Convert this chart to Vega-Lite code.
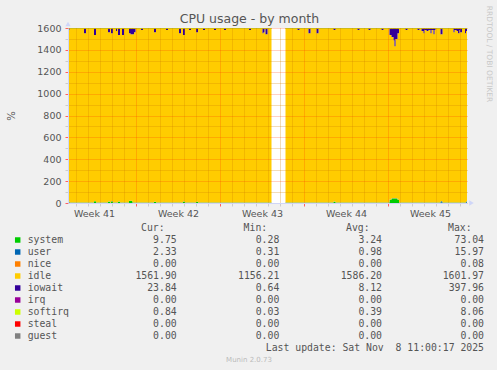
{
  "$schema": "https://vega.github.io/schema/vega-lite/v6.json",
  "background": "#f0f0f0",
  "padding": {"left": 6, "top": 5, "right": 6, "bottom": 7},
  "autosize": {"type": "pad"},
  "bounds": "flush",
  "spacing": 25,
  "title": {"text": "CPU usage - by month", "font": "DejaVu Sans", "fontSize": 12.5, "fontWeight": "normal", "color": "#555555", "anchor": "middle", "offset": -20},
  "config": {"view": {"stroke": null}, "font": "DejaVu Sans"},
  "resolve": {"scale": {"color": "independent"}},
  "datasets": {
    "ord": [
      {"s": "system", "k": 0}, {"s": "user", "k": 1}, {"s": "nice", "k": 2}, {"s": "idle", "k": 3},
      {"s": "iowait", "k": 4}, {"s": "irq", "k": 5}, {"s": "softirq", "k": 6}, {"s": "steal", "k": 7}, {"s": "guest", "k": 8}
    ],
    "arrows": [
      {"t": 32, "v": 1637, "dir": "up"},
      {"t": 839, "v": 0, "dir": "right"}
    ],
    "legend": [
      {"name": "system", "cur": 9.75, "min": 0.28, "avg": 3.24, "max": 73.04},
      {"name": "user", "cur": 2.33, "min": 0.31, "avg": 0.98, "max": 15.97},
      {"name": "nice", "cur": 0.00, "min": 0.00, "avg": 0.00, "max": 0.08},
      {"name": "idle", "cur": 1561.90, "min": 1156.21, "avg": 1586.20, "max": 1601.97},
      {"name": "iowait", "cur": 23.84, "min": 0.64, "avg": 8.12, "max": 397.96},
      {"name": "irq", "cur": 0.00, "min": 0.00, "avg": 0.00, "max": 0.00},
      {"name": "softirq", "cur": 0.84, "min": 0.03, "avg": 0.39, "max": 8.06},
      {"name": "steal", "cur": 0.00, "min": 0.00, "avg": 0.00, "max": 0.00},
      {"name": "guest", "cur": 0.00, "min": 0.00, "avg": 0.00, "max": 0.00}
    ],
    "cpu": [
      {"t": 32, "seg": 1, "system": 3, "user": 10, "idle": 1568, "iowait": 18, "softirq": 1},
      {"t": 35, "seg": 1, "system": 3, "user": 1, "idle": 1591, "iowait": 4, "softirq": 1},
      {"t": 64, "seg": 1, "system": 3, "user": 1, "idle": 1549, "iowait": 46, "softirq": 1},
      {"t": 68, "seg": 1, "system": 3, "user": 1, "idle": 1591, "iowait": 4, "softirq": 1},
      {"t": 84, "seg": 1, "system": 15, "user": 1, "idle": 1519, "iowait": 64, "softirq": 1},
      {"t": 88, "seg": 1, "system": 3, "user": 1, "idle": 1591, "iowait": 4, "softirq": 1},
      {"t": 112, "seg": 1, "system": 12, "user": 1, "idle": 1549, "iowait": 37, "softirq": 1},
      {"t": 116, "seg": 1, "system": 3, "user": 1, "idle": 1591, "iowait": 4, "softirq": 1},
      {"t": 118, "seg": 1, "system": 14, "user": 1, "idle": 1538, "iowait": 46, "softirq": 1},
      {"t": 122, "seg": 1, "system": 3, "user": 1, "idle": 1591, "iowait": 4, "softirq": 1},
      {"t": 128, "seg": 1, "system": 3, "user": 1, "idle": 1568, "iowait": 27, "softirq": 1},
      {"t": 130, "seg": 1, "system": 3, "user": 1, "idle": 1591, "iowait": 4, "softirq": 1},
      {"t": 132, "seg": 1, "system": 12, "user": 1, "idle": 1522, "iowait": 64, "softirq": 1},
      {"t": 136, "seg": 1, "system": 3, "user": 1, "idle": 1591, "iowait": 4, "softirq": 1},
      {"t": 140, "seg": 1, "system": 3, "user": 1, "idle": 1531, "iowait": 64, "softirq": 1},
      {"t": 144, "seg": 1, "system": 3, "user": 1, "idle": 1591, "iowait": 4, "softirq": 1},
      {"t": 154, "seg": 1, "system": 20, "user": 1, "idle": 1532, "iowait": 46, "softirq": 1},
      {"t": 157, "seg": 1, "system": 20, "user": 1, "idle": 1523, "iowait": 55, "softirq": 1},
      {"t": 161, "seg": 1, "system": 3, "user": 1, "idle": 1540, "iowait": 55, "softirq": 1},
      {"t": 164, "seg": 1, "system": 3, "user": 1, "idle": 1558, "iowait": 37, "softirq": 1},
      {"t": 167, "seg": 1, "system": 3, "user": 1, "idle": 1591, "iowait": 4, "softirq": 1},
      {"t": 178, "seg": 1, "system": 3, "user": 1, "idle": 1577, "iowait": 18, "softirq": 1},
      {"t": 182, "seg": 1, "system": 3, "user": 1, "idle": 1591, "iowait": 4, "softirq": 1},
      {"t": 204, "seg": 1, "system": 10, "user": 1, "idle": 1551, "iowait": 37, "softirq": 1},
      {"t": 208, "seg": 1, "system": 3, "user": 1, "idle": 1591, "iowait": 4, "softirq": 1},
      {"t": 228, "seg": 1, "system": 3, "user": 1, "idle": 1577, "iowait": 18, "softirq": 1},
      {"t": 232, "seg": 1, "system": 3, "user": 1, "idle": 1591, "iowait": 4, "softirq": 1},
      {"t": 254, "seg": 1, "system": 3, "user": 1, "idle": 1549, "iowait": 46, "softirq": 1},
      {"t": 258, "seg": 1, "system": 3, "user": 1, "idle": 1591, "iowait": 4, "softirq": 1},
      {"t": 262, "seg": 1, "system": 12, "user": 1, "idle": 1522, "iowait": 64, "softirq": 1},
      {"t": 266, "seg": 1, "system": 3, "user": 1, "idle": 1591, "iowait": 4, "softirq": 1},
      {"t": 274, "seg": 1, "system": 3, "user": 1, "idle": 1577, "iowait": 18, "softirq": 1},
      {"t": 278, "seg": 1, "system": 3, "user": 1, "idle": 1591, "iowait": 4, "softirq": 1},
      {"t": 288, "seg": 1, "system": 10, "user": 1, "idle": 1551, "iowait": 37, "softirq": 1},
      {"t": 292, "seg": 1, "system": 3, "user": 1, "idle": 1591, "iowait": 4, "softirq": 1},
      {"t": 302, "seg": 1, "system": 3, "user": 1, "idle": 1577, "iowait": 18, "softirq": 1},
      {"t": 306, "seg": 1, "system": 3, "user": 1, "idle": 1591, "iowait": 4, "softirq": 1},
      {"t": 324, "seg": 1, "system": 3, "user": 1, "idle": 1577, "iowait": 18, "softirq": 1},
      {"t": 328, "seg": 1, "system": 3, "user": 1, "idle": 1591, "iowait": 4, "softirq": 1},
      {"t": 344, "seg": 1, "system": 3, "user": 1, "idle": 1577, "iowait": 18, "softirq": 1},
      {"t": 348, "seg": 1, "system": 3, "user": 1, "idle": 1591, "iowait": 4, "softirq": 1},
      {"t": 394, "seg": 1, "system": 3, "user": 1, "idle": 1577, "iowait": 18, "softirq": 1},
      {"t": 398, "seg": 1, "system": 3, "user": 1, "idle": 1591, "iowait": 4, "softirq": 1},
      {"t": 421, "seg": 1, "system": 3, "user": 1, "idle": 1549, "iowait": 46, "softirq": 1},
      {"t": 423, "seg": 1, "system": 3, "user": 1, "idle": 1558, "iowait": 37, "softirq": 1},
      {"t": 425, "seg": 1, "system": 3, "user": 1, "idle": 1591, "iowait": 4, "softirq": 1},
      {"t": 427, "seg": 1, "system": 3, "user": 1, "idle": 1540, "iowait": 55, "softirq": 1},
      {"t": 431, "seg": 1, "system": 3, "user": 1, "idle": 1591, "iowait": 4, "softirq": 1},
      {"t": 439, "seg": 1, "system": 3, "user": 1, "idle": 1591, "iowait": 4, "softirq": 1},
      {"t": 467, "seg": 2, "system": 3, "user": 1, "idle": 1591, "iowait": 4, "softirq": 1},
      {"t": 491, "seg": 2, "system": 3, "user": 1, "idle": 1577, "iowait": 18, "softirq": 1},
      {"t": 495, "seg": 2, "system": 3, "user": 1, "idle": 1591, "iowait": 4, "softirq": 1},
      {"t": 513, "seg": 2, "system": 3, "user": 1, "idle": 1549, "iowait": 46, "softirq": 1},
      {"t": 517, "seg": 2, "system": 3, "user": 1, "idle": 1591, "iowait": 4, "softirq": 1},
      {"t": 529, "seg": 2, "system": 3, "user": 1, "idle": 1549, "iowait": 46, "softirq": 1},
      {"t": 533, "seg": 2, "system": 3, "user": 1, "idle": 1591, "iowait": 4, "softirq": 1},
      {"t": 563, "seg": 2, "system": 12, "user": 1, "idle": 1568, "iowait": 18, "softirq": 1},
      {"t": 567, "seg": 2, "system": 3, "user": 1, "idle": 1591, "iowait": 4, "softirq": 1},
      {"t": 611, "seg": 2, "system": 3, "user": 1, "idle": 1577, "iowait": 18, "softirq": 1},
      {"t": 615, "seg": 2, "system": 3, "user": 1, "idle": 1591, "iowait": 4, "softirq": 1},
      {"t": 633, "seg": 2, "system": 3, "user": 1, "idle": 1577, "iowait": 18, "softirq": 1},
      {"t": 637, "seg": 2, "system": 3, "user": 1, "idle": 1591, "iowait": 4, "softirq": 1},
      {"t": 659, "seg": 2, "system": 3, "user": 1, "idle": 1577, "iowait": 18, "softirq": 1},
      {"t": 663, "seg": 2, "system": 3, "user": 1, "idle": 1591, "iowait": 4, "softirq": 1},
      {"t": 675, "seg": 2, "system": 30, "user": 1, "idle": 1504, "iowait": 64, "softirq": 1},
      {"t": 679, "seg": 2, "system": 42, "user": 1, "idle": 1474, "iowait": 82, "softirq": 1},
      {"t": 683, "seg": 2, "system": 42, "user": 1, "idle": 1446, "iowait": 110, "softirq": 1},
      {"t": 685, "seg": 2, "system": 42, "user": 1, "idle": 1391, "iowait": 165, "softirq": 1},
      {"t": 687, "seg": 2, "system": 42, "user": 1, "idle": 1456, "iowait": 100, "softirq": 1},
      {"t": 691, "seg": 2, "system": 30, "user": 1, "idle": 1522, "iowait": 46, "softirq": 1},
      {"t": 694, "seg": 2, "system": 3, "user": 1, "idle": 1591, "iowait": 4, "softirq": 1},
      {"t": 707, "seg": 2, "system": 3, "user": 1, "idle": 1577, "iowait": 18, "softirq": 1},
      {"t": 711, "seg": 2, "system": 3, "user": 1, "idle": 1591, "iowait": 4, "softirq": 1},
      {"t": 731, "seg": 2, "system": 3, "user": 1, "idle": 1577, "iowait": 18, "softirq": 1},
      {"t": 735, "seg": 2, "system": 3, "user": 1, "idle": 1591, "iowait": 4, "softirq": 1},
      {"t": 739, "seg": 2, "system": 3, "user": 1, "idle": 1568, "iowait": 27, "softirq": 1},
      {"t": 743, "seg": 2, "system": 3, "user": 1, "idle": 1549, "iowait": 46, "softirq": 1},
      {"t": 745, "seg": 2, "system": 3, "user": 1, "idle": 1577, "iowait": 18, "softirq": 1},
      {"t": 749, "seg": 2, "system": 3, "user": 1, "idle": 1568, "iowait": 27, "softirq": 1},
      {"t": 753, "seg": 2, "system": 3, "user": 1, "idle": 1577, "iowait": 18, "softirq": 1},
      {"t": 757, "seg": 2, "system": 3, "user": 1, "idle": 1549, "iowait": 46, "softirq": 1},
      {"t": 759, "seg": 2, "system": 3, "user": 1, "idle": 1577, "iowait": 18, "softirq": 1},
      {"t": 763, "seg": 2, "system": 3, "user": 1, "idle": 1540, "iowait": 55, "softirq": 1},
      {"t": 765, "seg": 2, "system": 3, "user": 1, "idle": 1577, "iowait": 18, "softirq": 1},
      {"t": 767, "seg": 2, "system": 3, "user": 1, "idle": 1591, "iowait": 4, "softirq": 1},
      {"t": 777, "seg": 2, "system": 3, "user": 12, "idle": 1529, "iowait": 55, "softirq": 1},
      {"t": 781, "seg": 2, "system": 3, "user": 1, "idle": 1591, "iowait": 4, "softirq": 1},
      {"t": 803, "seg": 2, "system": 3, "user": 1, "idle": 1558, "iowait": 37, "softirq": 1},
      {"t": 805, "seg": 2, "system": 3, "user": 1, "idle": 1577, "iowait": 18, "softirq": 1},
      {"t": 809, "seg": 2, "system": 3, "user": 1, "idle": 1568, "iowait": 27, "softirq": 1},
      {"t": 812, "seg": 2, "system": 3, "user": 1, "idle": 1549, "iowait": 46, "softirq": 1},
      {"t": 815, "seg": 2, "system": 3, "user": 1, "idle": 1577, "iowait": 18, "softirq": 1},
      {"t": 816, "seg": 2, "system": 3, "user": 1, "idle": 1558, "iowait": 37, "softirq": 1},
      {"t": 820, "seg": 2, "system": 3, "user": 1, "idle": 1591, "iowait": 4, "softirq": 1},
      {"t": 826, "seg": 2, "system": 3, "user": 1, "idle": 1549, "iowait": 46, "softirq": 1},
      {"t": 828, "seg": 2, "system": 3, "user": 10, "idle": 1559, "iowait": 27, "softirq": 1},
      {"t": 830, "seg": 2, "system": 3, "user": 10, "idle": 1559, "iowait": 27, "softirq": 1}
    ]
  },
  "vconcat": [
    {
      "width": 399,
      "height": 175,
      "view": {"fill": "#ffffff", "stroke": null},
      "resolve": {"axis": {"x": "independent", "y": "independent"}},
      "layer": [
        {
          "data": {"name": "cpu"},
          "transform": [
            {"fold": ["system", "user", "idle", "iowait", "softirq"], "as": ["s", "v"]},
            {"lookup": "s", "from": {"data": {"name": "ord"}, "key": "s", "fields": ["k"]}}
          ],
          "mark": {"type": "area", "clip": true, "opacity": 1, "strokeWidth": 1, "interpolate": "step-after"},
          "encoding": {
            "x": {
              "field": "t", "type": "quantitative",
              "scale": {"domain": [32, 830], "nice": false, "zero": false},
              "axis": {
                "values": [48, 72, 96, 120, 144, 168, 192, 216, 240, 264, 288, 312, 336, 360, 384, 408, 432, 456, 480, 504, 528, 552, 576, 600, 624, 648, 672, 696, 720, 744, 768, 792, 816],
                "labels": false,
                "grid": true,
                "gridDash": [1, 1],
                "gridColor": {"condition": {"test": "datum.value % 168 === 0", "value": "#ff3000"}, "value": "#d08000"},
                "gridOpacity": {"condition": {"test": "datum.value % 168 === 0", "value": 0.45}, "value": 0.55},
                "tickColor": {"condition": {"test": "datum.value % 168 === 0", "value": "#ff6060"}, "value": "#cccccc"},
                "tickSize": 3,
                "domainColor": "#cfd6f8",
                "title": null,
                "zindex": 1
              }
            },
            "y": {
              "field": "v", "type": "quantitative", "stack": "zero", "impute": null,
              "scale": {"domain": [0, 1600], "nice": false},
              "axis": {
                "orient": "left",
                "values": [0, 100, 200, 300, 400, 500, 600, 700, 800, 900, 1000, 1100, 1200, 1300, 1400, 1500, 1600],
                "format": "d",
                "labelExpr": "datum.value % 200 === 0 ? datum.label : ''",
                "grid": true,
                "gridDash": [1, 1],
                "gridColor": {"condition": {"test": "datum.value % 200 === 0", "value": "#ff3000"}, "value": "#d08000"},
                "gridOpacity": {"condition": {"test": "datum.value % 200 === 0", "value": 0.45}, "value": 0.55},
                "tickColor": {"condition": {"test": "datum.value % 200 === 0", "value": "#ff6060"}, "value": "#cccccc"},
                "tickSize": 3,
                "labelFont": "DejaVu Sans", "labelFontSize": 9.5, "labelColor": "#555555", "labelPadding": 4,
                "labelOverlap": false, "labelFlush": false,
                "domainColor": "#cfd6f8",
                "title": "%",
                "titleFont": "DejaVu Sans", "titleFontSize": 10, "titleFontWeight": "normal", "titleColor": "#555555", "titlePadding": 20,
                "zindex": 1
              }
            },
            "color": {
              "field": "s", "type": "nominal",
              "scale": {
                "domain": ["system", "user", "nice", "idle", "iowait", "irq", "softirq", "steal", "guest"],
                "range": ["#00cc00", "#0066b3", "#ff8000", "#ffcc00", "#330099", "#990099", "#ccff00", "#ff0000", "#808080"]
              },
              "legend": null
            },
            "stroke": {"condition": {"test": "datum.s === 'softirq'", "value": "#ccff00"}, "value": null},
            "order": {"field": "k", "type": "quantitative"},
            "detail": {"field": "seg", "type": "nominal"}
          }
        },
        {
          "data": {"name": "arrows"},
          "mark": {"type": "point", "filled": true, "size": 28, "opacity": 1, "color": "#cfd6f8"},
          "encoding": {
            "x": {
              "field": "t", "type": "quantitative",
              "axis": {
                "orient": "bottom",
                "values": [84, 252, 420, 588, 756],
                "labelExpr": "'Week ' + (41 + floor(datum.value / 168))",
                "grid": false, "ticks": false, "domain": false,
                "labelFont": "DejaVu Sans", "labelFontSize": 9.5, "labelColor": "#555555", "labelPadding": 5,
                "labelOverlap": false, "labelFlush": false,
                "title": null
              }
            },
            "y": {
              "field": "v", "type": "quantitative",
              "axis": {
                "orient": "right", "labels": false, "ticks": false, "domain": false, "grid": false,
                "title": "RRDTOOL / TOBI OETIKER",
                "titleAngle": 90, "titleFont": "DejaVu Sans", "titleFontSize": 7.5, "titleFontWeight": "normal",
                "titleColor": "#c8c8c8", "titleX": 21, "titleY": 25.5, "titleAlign": "center", "titleBaseline": "middle"
              }
            },
            "shape": {"field": "dir", "type": "nominal", "scale": {"domain": ["up", "right"], "range": ["triangle-up", "triangle-right"]}, "legend": null}
          }
        }
      ]
    },
    {
      "width": 399,
      "height": 132,
      "layer": [
        {
          "data": {"name": "legend"},
          "mark": {"type": "point", "shape": "square", "filled": true, "size": 30, "opacity": 1},
          "encoding": {
            "x": {"datum": 0.45, "type": "quantitative", "scale": {"domain": [8.833, 75.333], "nice": false, "zero": false}, "axis": null},
            "y": {"field": "name", "type": "nominal", "scale": {"type": "point", "padding": 0, "domain": ["hdr", "system", "user", "nice", "idle", "iowait", "irq", "softirq", "steal", "guest", "upd", "munin"]}, "axis": null},
            "color": {
              "field": "name", "type": "nominal",
              "scale": {
                "domain": ["system", "user", "nice", "idle", "iowait", "irq", "softirq", "steal", "guest"],
                "range": ["#00cc00", "#0066b3", "#ff8000", "#ffcc00", "#330099", "#990099", "#ccff00", "#ff0000", "#808080"]
              },
              "legend": null
            }
          }
        },
        {
          "data": {"name": "legend"},
          "mark": {"type": "text", "align": "left", "baseline": "middle", "font": "DejaVu Sans Mono", "fontSize": 9.8, "color": "#555555"},
          "encoding": {
            "x": {"datum": 2.11, "type": "quantitative", "axis": null},
            "y": {"field": "name", "type": "nominal", "axis": null},
            "text": {"field": "name"}
          }
        },
        {
          "data": {"name": "legend"},
          "mark": {"type": "text", "align": "right", "baseline": "middle", "font": "DejaVu Sans Mono", "fontSize": 9.8, "color": "#555555"},
          "encoding": {
            "x": {"datum": 26.95, "type": "quantitative", "axis": null},
            "y": {"field": "name", "type": "nominal", "axis": null},
            "text": {"field": "cur", "format": ".2f"}
          }
        },
        {
          "data": {"name": "legend"},
          "mark": {"type": "text", "align": "right", "baseline": "middle", "font": "DejaVu Sans Mono", "fontSize": 9.8, "color": "#555555"},
          "encoding": {
            "x": {"datum": 44.05, "type": "quantitative", "axis": null},
            "y": {"field": "name", "type": "nominal", "axis": null},
            "text": {"field": "min", "format": ".2f"}
          }
        },
        {
          "data": {"name": "legend"},
          "mark": {"type": "text", "align": "right", "baseline": "middle", "font": "DejaVu Sans Mono", "fontSize": 9.8, "color": "#555555"},
          "encoding": {
            "x": {"datum": 61.17, "type": "quantitative", "axis": null},
            "y": {"field": "name", "type": "nominal", "axis": null},
            "text": {"field": "avg", "format": ".2f"}
          }
        },
        {
          "data": {"name": "legend"},
          "mark": {"type": "text", "align": "right", "baseline": "middle", "font": "DejaVu Sans Mono", "fontSize": 9.8, "color": "#555555"},
          "encoding": {
            "x": {"datum": 78.17, "type": "quantitative", "axis": null},
            "y": {"field": "name", "type": "nominal", "axis": null},
            "text": {"field": "max", "format": ".2f"}
          }
        },
        {
          "data": {"values": [{"label": "Cur:"}]},
          "mark": {"type": "text", "align": "left", "baseline": "middle", "font": "DejaVu Sans Mono", "fontSize": 9.8, "color": "#555555"},
          "encoding": {
            "x": {"datum": 21.0, "type": "quantitative", "axis": null},
            "y": {"datum": "hdr", "type": "nominal", "axis": null},
            "text": {"field": "label"}
          }
        },
        {
          "data": {"values": [{"label": "Min:"}]},
          "mark": {"type": "text", "align": "left", "baseline": "middle", "font": "DejaVu Sans Mono", "fontSize": 9.8, "color": "#555555"},
          "encoding": {
            "x": {"datum": 38.1, "type": "quantitative", "axis": null},
            "y": {"datum": "hdr", "type": "nominal", "axis": null},
            "text": {"field": "label"}
          }
        },
        {
          "data": {"values": [{"label": "Avg:"}]},
          "mark": {"type": "text", "align": "left", "baseline": "middle", "font": "DejaVu Sans Mono", "fontSize": 9.8, "color": "#555555"},
          "encoding": {
            "x": {"datum": 55.17, "type": "quantitative", "axis": null},
            "y": {"datum": "hdr", "type": "nominal", "axis": null},
            "text": {"field": "label"}
          }
        },
        {
          "data": {"values": [{"label": "Max:"}]},
          "mark": {"type": "text", "align": "left", "baseline": "middle", "font": "DejaVu Sans Mono", "fontSize": 9.8, "color": "#555555"},
          "encoding": {
            "x": {"datum": 72.17, "type": "quantitative", "axis": null},
            "y": {"datum": "hdr", "type": "nominal", "axis": null},
            "text": {"field": "label"}
          }
        },
        {
          "data": {"values": [{"label": "Last update: Sat Nov \u00a08 11:00:17 2025"}]},
          "mark": {"type": "text", "align": "right", "baseline": "middle", "font": "DejaVu Sans Mono", "fontSize": 9.8, "color": "#555555"},
          "encoding": {
            "x": {"datum": 78.17, "type": "quantitative", "axis": null},
            "y": {"datum": "upd", "type": "nominal", "axis": null},
            "text": {"field": "label"}
          }
        },
        {
          "data": {"values": [{"label": "Munin 2.0.73"}]},
          "mark": {"type": "text", "align": "center", "baseline": "middle", "font": "DejaVu Sans", "fontSize": 7, "color": "#bbbbbb"},
          "encoding": {
            "x": {"datum": 39, "type": "quantitative", "axis": null},
            "y": {"datum": "munin", "type": "nominal", "axis": null},
            "text": {"field": "label"}
          }
        }
      ]
    }
  ]
}
